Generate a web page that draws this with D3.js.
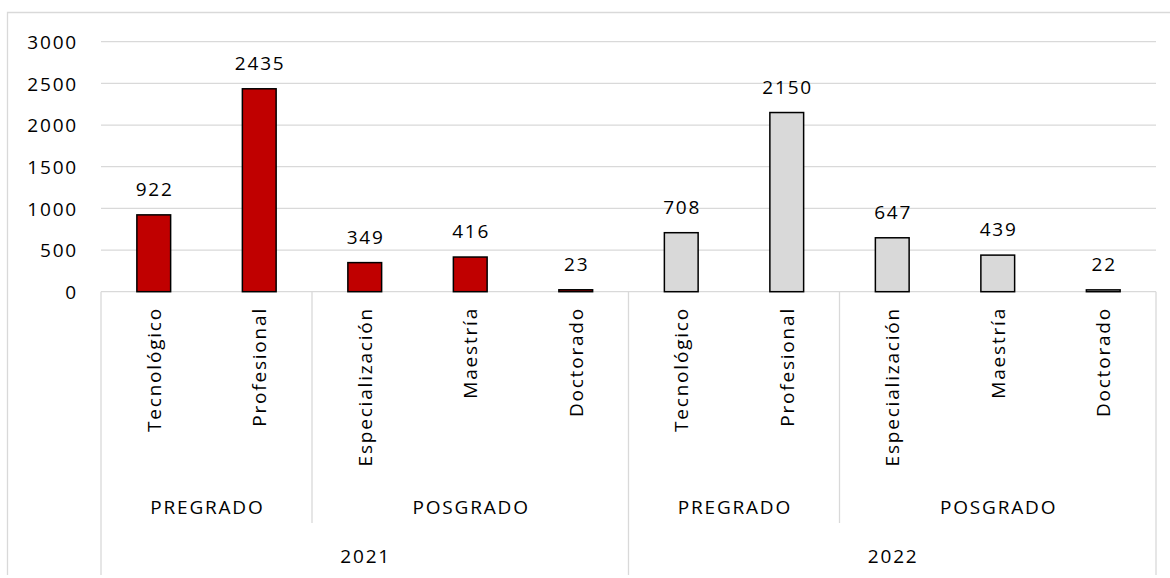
<!DOCTYPE html>
<html>
<head>
<meta charset="utf-8">
<script src="https://cdn.jsdelivr.net/npm/d3@7"></script>
<style>
  html, body { margin: 0; padding: 0; background: #fff; }
  svg { display: block; font-family: "Open Sans", sans-serif; }
  svg text { letter-spacing: 1.8px; }
</style>
</head>
<body>
<svg id="chart" width="1170" height="578"></svg>
<script>
// ---- data ----
const years = ["2021", "2022"];
const groups = ["PREGRADO", "POSGRADO"];
const groupLevels = [["Tecnológico", "Profesional"], ["Especialización", "Maestría", "Doctorado"]];
const values2021 = [922, 2435, 349, 416, 23];
const values2022 = [708, 2150, 647, 439, 22];
const yTicks = [0, 500, 1000, 1500, 2000, 2500, 3000];
const yearColors = ["#C00000", "#D9D9D9"];

(function () {
// ---- build flat categories ----
const seriesByYear = [values2021, values2022];
const cats = [];
years.forEach((yr, yi) => {
  let k = 0;
  groups.forEach((g, gi) => {
    groupLevels[gi].forEach(lv => {
      cats.push({ id: yr + "|" + g + "|" + lv, year: yr, yi, group: g, gi, level: lv, value: seriesByYear[yi][k] });
      k++;
    });
  });
});

const svg = d3.select("#chart");
const pLeft = 101, pRight = 1156, pTop = 41.7, pBottom = 291.7;

const x = d3.scaleBand().domain(cats.map(d => d.id)).range([pLeft, pRight])
  .paddingInner(0.68).paddingOuter(0.34);
const y = d3.scaleLinear().domain([0, 3000]).range([pBottom, pTop]);
const step = x.step();
const gridColor = "#D9D9D9";
const fs = 19;

// outer chart border
svg.append("path").attr("d", "M7.5,575 V12.5 H1170").attr("fill", "none")
  .attr("stroke", gridColor).attr("stroke-width", 1.3);

// gridlines
svg.append("g").selectAll("line").data(yTicks).join("line")
  .attr("x1", pLeft).attr("x2", pRight)
  .attr("y1", d => y(d)).attr("y2", d => y(d))
  .attr("stroke", gridColor).attr("stroke-width", 1.3);

// y tick labels
const yAxis = d3.axisLeft(y).tickValues(yTicks).tickSize(0).tickPadding(0).tickFormat(d3.format("d"));
const ya = svg.append("g").attr("transform", `translate(${78},0)`).call(yAxis);
ya.select(".domain").remove();
ya.selectAll("text").attr("font-size", fs).attr("fill", "#000")
  .attr("font-family", "Open Sans, sans-serif").attr("dy", "0.35em");

// bars
svg.append("g").selectAll("rect").data(cats).join("rect")
  .attr("x", d => x(d.id)).attr("width", x.bandwidth())
  .attr("y", d => y(d.value)).attr("height", d => y(0) - y(d.value))
  .attr("fill", d => yearColors[d.yi]).attr("stroke", "#000").attr("stroke-width", 1.5);

// data labels
svg.append("g").selectAll("text").data(cats).join("text")
  .attr("x", d => x(d.id) + x.bandwidth() / 2 + 0.9)
  .attr("y", d => y(d.value) - 26)
  .attr("text-anchor", "middle").attr("dominant-baseline", "central")
  .attr("font-size", fs).attr("fill", "#000").text(d => d.value);

// category labels (rotated)
svg.append("g").selectAll("text").data(cats).join("text")
  .attr("transform", d => `translate(${x(d.id) + x.bandwidth() / 2},307) rotate(-90)`)
  .attr("text-anchor", "end").attr("dominant-baseline", "central")
  .attr("font-size", fs).attr("fill", "#000").text(d => d.level);

// separators
const edge = i => pLeft + step * i;
const groupStarts = [];
const yearStarts = [];
cats.forEach((d, i) => {
  if (i === 0 || cats[i - 1].year !== d.year) yearStarts.push(i);
  else if (cats[i - 1].group !== d.group) groupStarts.push(i);
});
yearStarts.push(cats.length);
svg.append("g").selectAll("line").data(groupStarts).join("line")
  .attr("x1", edge).attr("x2", edge).attr("y1", pBottom).attr("y2", 523)
  .attr("stroke", gridColor).attr("stroke-width", 1.3);
svg.append("g").selectAll("line").data(yearStarts).join("line")
  .attr("x1", edge).attr("x2", edge).attr("y1", pBottom).attr("y2", 575)
  .attr("stroke", gridColor).attr("stroke-width", 1.3);

// group labels
const groupSpans = [];
cats.forEach((d, i) => {
  const last = groupSpans[groupSpans.length - 1];
  if (last && last.year === d.year && last.group === d.group) last.end = i + 1;
  else groupSpans.push({ year: d.year, group: d.group, start: i, end: i + 1 });
});
svg.append("g").selectAll("text").data(groupSpans).join("text")
  .attr("x", d => (edge(d.start) + edge(d.end)) / 2 + 0.9).attr("y", 507)
  .attr("text-anchor", "middle").attr("dominant-baseline", "central")
  .attr("font-size", fs).attr("fill", "#000").text(d => d.group);

// year labels
svg.append("g").selectAll("text").data(years).join("text")
  .attr("x", (d, i) => (edge(yearStarts[i]) + edge(yearStarts[i + 1])) / 2 + 0.9).attr("y", 556)
  .attr("text-anchor", "middle").attr("dominant-baseline", "central")
  .attr("font-size", fs).attr("fill", "#000").text(d => d);
})();
</script>
</body>
</html>
